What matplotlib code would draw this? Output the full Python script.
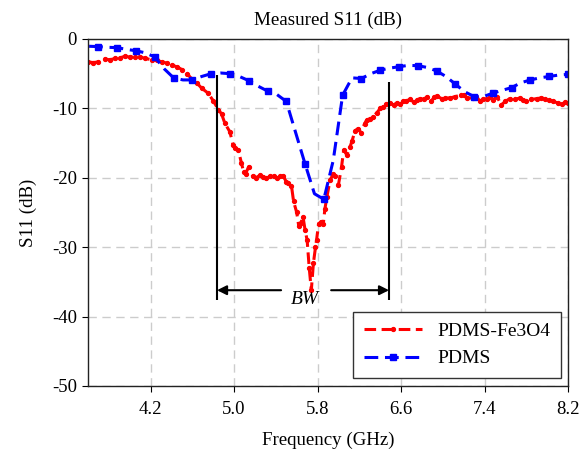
import matplotlib
matplotlib.use("Agg")
import matplotlib.pyplot as plt

# measured S11, PDMS-Fe3O4 substrate
freq_fe = [3.60, 3.65, 3.70, 3.76, 3.81, 3.86, 3.91, 3.95, 4.00, 4.05, 4.10, 4.15,
           4.21, 4.26, 4.31, 4.36, 4.40, 4.45, 4.50, 4.55, 4.59, 4.64, 4.69, 4.75,
           4.80, 4.85, 4.88, 4.91, 4.96, 4.99, 5.01, 5.04, 5.07, 5.09, 5.11, 5.14,
           5.18, 5.21, 5.25, 5.28, 5.31, 5.34, 5.38, 5.41, 5.44, 5.47, 5.50, 5.52,
           5.55, 5.57, 5.60, 5.62, 5.64, 5.66, 5.68, 5.70, 5.72, 5.74, 5.76, 5.78,
           5.79, 5.81, 5.83, 5.855, 5.87, 5.89, 5.92, 5.95, 5.97, 6.00, 6.03, 6.05,
           6.08, 6.11, 6.13, 6.16, 6.19, 6.22, 6.25, 6.27, 6.30, 6.33, 6.37, 6.40,
           6.43, 6.46, 6.49, 6.53, 6.56, 6.59, 6.62, 6.65, 6.69, 6.72, 6.75, 6.78,
           6.82, 6.85, 6.89, 6.92, 6.94, 6.99, 7.02, 7.07, 7.12, 7.17, 7.20, 7.23,
           7.29, 7.32, 7.36, 7.39, 7.42, 7.45, 7.48, 7.52, 7.56, 7.60, 7.64, 7.69,
           7.74, 7.77, 7.80, 7.85, 7.90, 7.94, 7.98, 8.02, 8.06, 8.10, 8.14, 8.17, 8.20]
s11_fe = [-3.3, -3.4, -3.3, -2.9, -3.0, -2.8, -2.7, -2.5, -2.6, -2.55, -2.6, -2.8,
          -3.0, -3.1, -3.3, -3.5, -3.75, -4.0, -4.4, -5.0, -5.7, -6.3, -7.1, -7.8,
          -8.9, -10.2, -10.8, -12.1, -13.4, -15.3, -15.7, -16.0, -17.9, -19.1, -19.4, -18.4,
          -19.8, -20.0, -19.6, -19.9, -20.1, -19.8, -19.8, -20.0, -19.8, -19.7, -20.6, -20.8,
          -21.2, -23.4, -25.0, -27.0, -26.5, -25.6, -27.5, -29.0, -33.0, -36.2, -32.3, -30.0,
          -29.0, -26.6, -26.4, -26.6, -24.5, -22.7, -20.3, -19.5, -19.8, -21.0, -18.4, -16.0,
          -16.7, -15.6, -14.7, -13.2, -12.9, -13.6, -12.2, -11.7, -11.5, -11.2, -10.6, -10.0,
          -9.8, -9.4, -9.2, -9.5, -9.2, -9.3, -9.0, -8.9, -8.7, -9.1, -8.8, -8.6,
          -8.7, -8.3, -8.9, -8.4, -8.2, -8.6, -8.5, -8.5, -8.3, -8.1, -8.0, -8.5,
          -8.5, -8.3, -9.0, -8.7, -8.6, -8.4, -8.8, -8.3, -9.5, -9.0, -8.6, -8.7,
          -8.5, -8.8, -9.0, -8.7, -8.6, -8.5, -8.6, -8.8, -9.0, -9.2, -9.4, -9.1, -9.2]

# measured S11, plain PDMS substrate
freq_pdms = [3.61, 3.70, 3.79, 3.88, 3.97, 4.06, 4.15, 4.24, 4.33, 4.42, 4.51, 4.60,
             4.69, 4.78, 4.87, 4.96, 5.05, 5.14, 5.23, 5.32, 5.41, 5.50, 5.59, 5.68,
             5.77, 5.86, 5.95, 6.04, 6.13, 6.22, 6.31, 6.40, 6.49, 6.58, 6.67, 6.76,
             6.85, 6.94, 7.03, 7.12, 7.21, 7.30, 7.39, 7.48, 7.57, 7.66, 7.75, 7.84,
             7.93, 8.02, 8.11, 8.20]
s11_pdms = [-1.05, -1.1, -1.2, -1.25, -1.5, -1.7, -2.0, -2.6, -4.3, -5.6, -5.9, -5.9,
            -5.4, -5.0, -4.9, -5.0, -5.4, -6.0, -6.8, -7.5, -8.0, -9.0, -13.5, -18.0,
            -22.3, -23.1, -17.5, -8.1, -5.6, -5.7, -5.0, -4.5, -4.2, -4.0, -3.8, -3.85,
            -4.1, -4.6, -5.4, -6.5, -7.6, -8.3, -8.3, -7.8, -7.4, -7.0, -6.3, -5.9,
            -5.6, -5.4, -5.2, -5.1]

xticks = [4.2, 5.0, 5.8, 6.6, 7.4, 8.2]
yticks = [0, -10, -20, -30, -40, -50]

# bandwidth markers
bw_left, bw_right = 4.836, 6.485

plt.rcParams['font.family'] = ['Liberation Serif', 'DejaVu Serif']
plt.rcParams['axes.unicode_minus'] = False

fig = plt.figure(figsize=(5.87, 4.57), dpi=100)
ax = fig.add_axes([0.150, 0.1554, 0.8176, 0.7593])

ax.plot(freq_fe, s11_fe, color='#ff0000', lw=2.2, dashes=(3.8, 1.8),
        marker='o', ms=2.8, label='PDMS-Fe3O4')
ax.plot(freq_pdms, s11_pdms, color='#0000ff', lw=2.2, dashes=(4.5, 2.2),
        marker='s', ms=5, markevery=slice(1, None, 2), label='PDMS')

ax.vlines(bw_left, -37.6, -5.2, color='black', lw=1.5)
ax.vlines(bw_right, -37.6, -6.15, color='black', lw=1.5)
arrow = dict(arrowstyle='-|>', color='black', lw=1.5, mutation_scale=14,
             shrinkA=0, shrinkB=0)
ax.annotate('', xy=(bw_left, -36.2), xytext=(5.45, -36.2), arrowprops=arrow)
ax.annotate('', xy=(bw_right, -36.2), xytext=(5.93, -36.2), arrowprops=arrow)
ax.text(5.68, -37.6, 'BW', style='italic', fontsize=14, ha='center', va='center')

ax.set_xlim(3.6, 8.2)
ax.set_ylim(-50, 0)
ax.set_xticks(xticks)
ax.set_yticks(yticks)
ax.tick_params(direction='out', length=4, labelsize=13.5, top=False, right=False)
ax.tick_params(axis='x', pad=7)
ax.tick_params(axis='y', pad=4)
ax.grid(True, color='#cccccc', linestyle=(0, (6, 4)), lw=1.0)
ax.set_axisbelow(True)
for sp in ax.spines.values():
    sp.set_color('#222222')
    sp.set_linewidth(1.0)

ax.set_title('Measured S11 (dB)', fontsize=13.7, pad=10)
ax.set_xlabel('Frequency (GHz)', fontsize=13.6, labelpad=10)
ax.set_ylabel('S11 (dB)', fontsize=13.6, labelpad=11)

leg = ax.legend(loc='lower right', bbox_to_anchor=(0.986, 0.023), borderaxespad=0,
                fontsize=14, handlelength=3.0, handletextpad=0.8, fancybox=False,
                framealpha=1, edgecolor='#333333', borderpad=0.55, labelspacing=0.5)
leg.get_frame().set_linewidth(1.0)

fig.savefig('out.png', dpi=100)
